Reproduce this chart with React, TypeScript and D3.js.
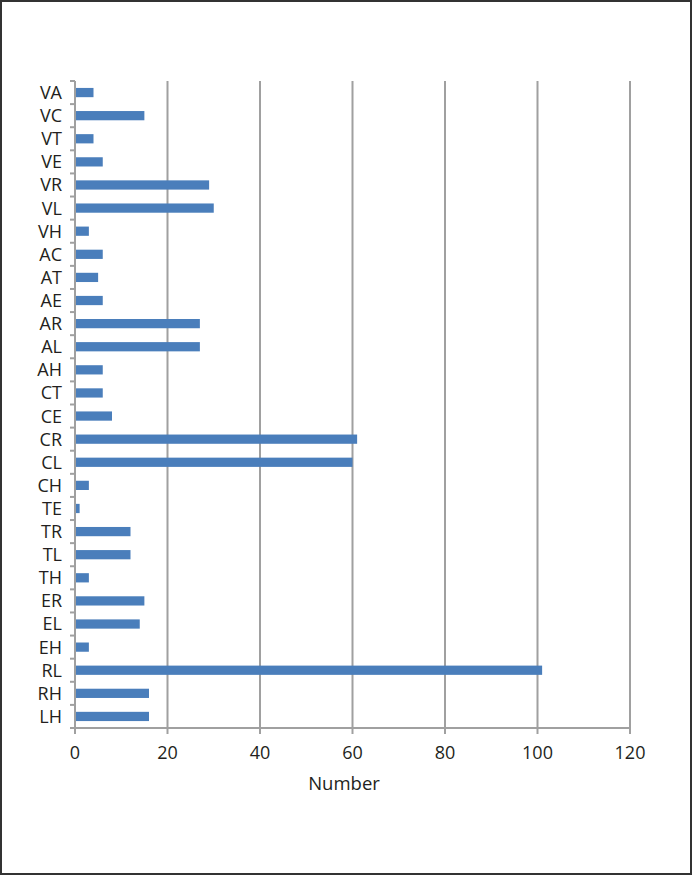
import React from "react";
import * as d3 from "d3";

const categories = ["VA","VC","VT","VE","VR","VL","VH","AC","AT","AE","AR","AL","AH","CT","CE","CR","CL","CH","TE","TR","TL","TH","ER","EL","EH","RL","RH","LH"];
const values = [4,15,4,6,29,30,3,6,5,6,27,27,6,6,8,61,60,3,1,12,12,3,15,14,3,101,16,16];
const xTicks = [0,20,40,60,80,100,120];
const xTitle = "Number";

export default function App() {
  const W = 692, H = 875;
  const left = 75, right = 630, top = 81, bottom = 728;
  const x = d3.scaleLinear().domain([0, 120]).range([left, right]);
  const y = d3.scaleBand().domain(categories).range([top, bottom]).paddingInner(0.6).paddingOuter(0.3);
  const step = (bottom - top) / categories.length;
  const font = "'Open Sans', 'Noto Sans', sans-serif";
  const grid = "#a0a0a0";
  const fs = 18;
  return (
    <svg width={W} height={H} style={{ position: "absolute", left: 0, top: 0, background: "#fff" }}>
      <rect x={1} y={1} width={W - 2} height={H - 2} fill="#fff" stroke="#333" strokeWidth={2} />
      {xTicks.filter(t => t > 0).map(t => (
        <line key={t} x1={x(t)} x2={x(t)} y1={top} y2={bottom} stroke={grid} strokeWidth={2} />
      ))}
      {values.map((v, i) => (
        <rect key={categories[i]} x={x(0)} y={y(categories[i])!} width={x(v) - x(0)} height={y.bandwidth()} fill="#4a7ebb" />
      ))}
      <line x1={x(0)} x2={x(0)} y1={top} y2={bottom + 5} stroke={grid} strokeWidth={2} />
      {d3.range(categories.length + 1).map(i => (
        <line key={"yt" + i} x1={x(0) - 5} x2={x(0)} y1={top + i * step} y2={top + i * step} stroke={grid} strokeWidth={2} />
      ))}
      <line x1={x(0) - 5} x2={x(120)} y1={bottom} y2={bottom} stroke={grid} strokeWidth={2} />
      {xTicks.map(t => (
        <line key={"xt" + t} x1={x(t)} x2={x(t)} y1={bottom} y2={bottom + 6} stroke={grid} strokeWidth={2} />
      ))}
      {xTicks.map(t => (
        <text key={"xl" + t} x={x(t)} y={bottom + 31} textAnchor="middle" fontFamily={font} fontSize={fs} fill="#231f20">{t}</text>
      ))}
      {categories.map(c => (
        <text key={"yl" + c} x={x(0) - 13} y={y(c)! + y.bandwidth() / 2} dy="0.36em" textAnchor="end" fontFamily={font} fontSize={fs} fill="#231f20">{c}</text>
      ))}
      <text x={344} y={790} textAnchor="middle" fontFamily={font} fontSize={18.5} fill="#231f20">{xTitle}</text>
    </svg>
  );
}
